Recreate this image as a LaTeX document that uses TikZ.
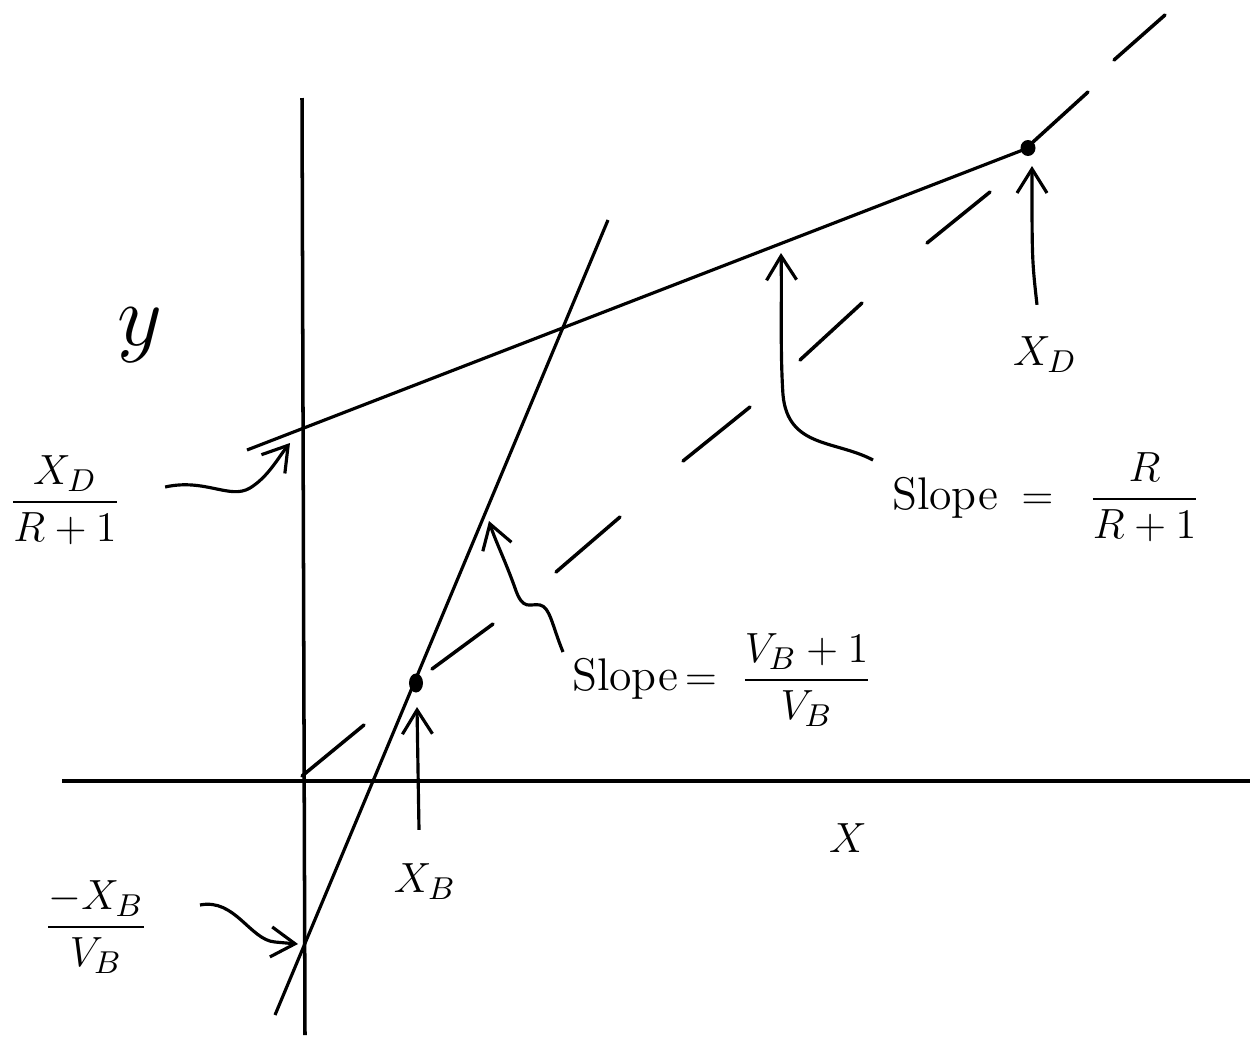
\documentclass[tikz,border=0pt]{standalone}
\usepackage{amsmath}
\usetikzlibrary{positioning, arrows.meta, calc}

\begin{document}
\begin{tikzpicture}[x=0.01cm, y=-0.01cm,
  axis/.style={line width=1pt},
  opline/.style={line width=0.9pt},
  diagline/.style={line width=1pt, line cap=round},
  arrow/.style={-{Straight Barb[length=2.4mm,width=3mm]}, line width=0.9pt},
  lbl/.style={font=\fontsize{13}{16}\selectfont, inner sep=1pt},
  biglbl/.style={font=\fontsize{24}{28}\selectfont, inner sep=1pt}
]
\useasboundingbox (0,0) rectangle (1260,1048);

% Axes
\coordinate (O) at (302,780);
\coordinate (ytop) at (302,98);
\coordinate (ybot) at (305,1035);
\coordinate (xleft) at (62,781);
\coordinate (xright) at (1250,781);
\draw[axis] (ytop) -- (ybot);
\draw[axis] (xleft) -- (xright);

% Diagonal y = x, drawn as dashes
\foreach \xa/\ya/\xb/\yb in {302/776/364/725, 432/669/493/624, 556/572/620/517,
    683/461/750/407, 800/360/862/303, 927/243/990/192, 1033/142/1088/92,
    1114/60/1165/15}
  \draw[diagline] (\xa,\ya) -- (\xb,\yb);

% Operating lines
\coordinate (rstart) at (247,450);
\coordinate (xd) at (1028,148);
\coordinate (sstart) at (275,1015);
\coordinate (send) at (608,220);
\coordinate (xb) at (416,683);
\draw[opline] (rstart) -- (xd);
\draw[opline] (sstart) -- (send);
\fill (xd) ellipse [x radius=0.75mm, y radius=0.8mm];
\fill (xb) ellipse [x radius=0.7mm, y radius=0.95mm];

% Labels
\node[biglbl] (ylab) at (140,335) {$y$};
\node[lbl] (xlab) at (848,838) {$X$};
\node[lbl] (xblab) at (425,882) {$X_B$};
\node[lbl] (xdlab) at (1045,355) {$X_D$};
\node[lbl] (rint) at (65,500) {$\dfrac{X_D}{R+1}$};
\node[lbl] (sint) at (96,927) {$\dfrac{-X_B}{V_B}$};
\node[lbl, anchor=west] (sslope) at (568,680) {Slope$\,=\;\dfrac{V_B+1}{V_B}$};
\node[lbl, anchor=west] (rslope) at (888,497) {Slope$\;\;=\;\;\dfrac{R}{R+1}$};

% Arrow tips
\coordinate (rinttip) at (290,443);
\coordinate (sinttip) at (298,944);
\coordinate (xbtip) at (417,707);
\coordinate (xdtip) at (1032,166);
\coordinate (sslopetip) at (489,521);
\coordinate (rslopetip) at (781,253);

% Arrows
\draw[arrow] (xblab.north) ++(-6,-30) -- (xbtip);
\draw[arrow] (xdlab.north) ++(-8,-28) .. controls (1032,260) .. (xdtip);
\draw[arrow] ($(rint.east)+(40,-13)$) .. controls (205,478) and (230,500) .. (250,488)
  .. controls (268,477) and (278,458) .. (rinttip);
\draw[arrow] ($(sint.east)+(48,-22)$) .. controls (235,898) and (250,940) .. (275,942)
  .. controls (285,943) .. (sinttip);
\draw[arrow] ($(sslope.west)+(-5,-28)$) .. controls (552,625) and (550,607) .. (540,605)
  .. controls (530,603) and (523,612) .. (515,588)
  .. controls (505,560) and (495,540) .. (sslopetip);
\draw[arrow] ($(rslope.west)+(-15,-37)$) .. controls (835,440) and (788,448) .. (783,395)
  .. controls (780,350) and (782,300) .. (rslopetip);
\end{tikzpicture}
\end{document}
